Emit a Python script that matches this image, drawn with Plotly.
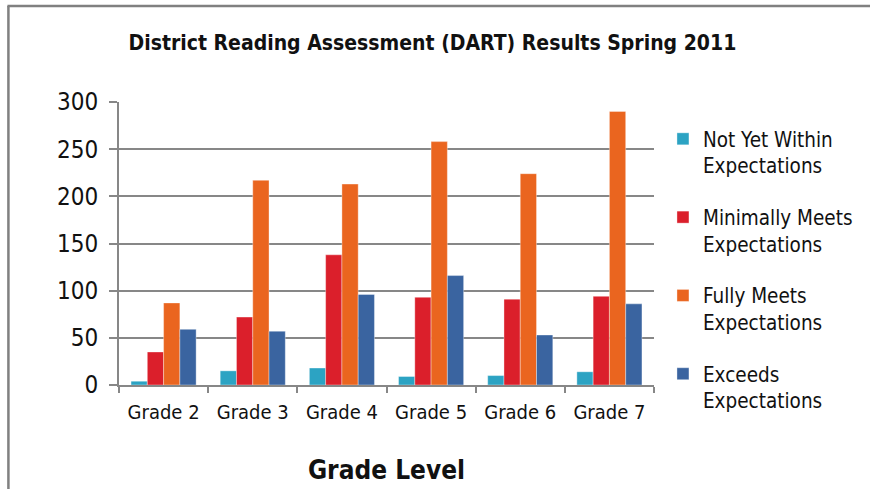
import plotly.graph_objects as go

categories = ["Grade 2", "Grade 3", "Grade 4", "Grade 5", "Grade 6", "Grade 7"]
not_yet = [4, 15, 18, 9, 10, 14]
minimally = [35, 72, 138, 93, 91, 94]
fully = [87, 217, 213, 258, 224, 290]
exceeds = [59, 57, 96, 116, 53, 86]

series_names = [
    "Not Yet Within<br>Expectations",
    "Minimally Meets<br>Expectations",
    "Fully Meets<br>Expectations",
    "Exceeds<br>Expectations",
]
series_values = [not_yet, minimally, fully, exceeds]
colors = ["#2CA3C3", "#DB1F2B", "#EA651F", "#3A64A0"]

FONT = "DejaVu Sans Condensed, Liberation Sans, Arial, sans-serif"

fig = go.Figure()
for i, (name, vals, col) in enumerate(zip(series_names, series_values, colors)):
    fig.add_trace(go.Bar(
        x=categories, y=vals, name=name,
        marker=dict(color=col, line=dict(color="rgba(255,255,255,0.6)", width=0.6)),
        legendgroup=f"g{i}",
    ))

L, R, T, B = 119, 870 - 656, 102, 489 - 385
pw, ph = 656 - L, 385 - T

def px_x(x):
    return (x - L) / pw

def px_y(y):
    return (385 - y) / ph

gray = "#878787"

fig.update_layout(
    width=870, height=489,
    margin=dict(l=L, r=R, t=T, b=B),
    paper_bgcolor="white", plot_bgcolor="white",
    barmode="group", bargap=0.27, bargroupgap=0,
    font=dict(family=FONT, color="#111111", size=20),
    title=dict(
        text="<b>District Reading Assessment (DART) Results Spring 2011</b>",
        x=0.497, xref="container", xanchor="center",
        y=1 - 43 / 489, yref="container", yanchor="middle",
        font=dict(family=FONT, size=21, color="#111111"),
    ),
    legend=dict(
        x=px_x(665), y=px_y(119), xanchor="left", yanchor="top",
        xref="paper", yref="paper",
        font=dict(family=FONT, size=20.5, color="#111111"),
        traceorder="grouped", tracegroupgap=22,
        itemwidth=30, bgcolor="rgba(0,0,0,0)",
        valign="top", maxheight=420,
    ),
    showlegend=True,
    xaxis=dict(
        automargin=False,
        showline=True, linecolor=gray, linewidth=2,
        ticks="outside", tickson="boundaries", ticklen=6, tickcolor=gray, tickwidth=2,
        tickfont=dict(family=FONT, size=20, color="#111111"),
        ticklabelstandoff=8,
        title=dict(text="<b>Grade Level</b>", font=dict(family=FONT, size=26, color="#111111"), standoff=38),
        showgrid=False,
    ),
    yaxis=dict(
        automargin=False,
        range=[0, 300], dtick=50,
        showline=True, linecolor=gray, linewidth=2,
        ticks="outside", ticklen=8, tickcolor=gray, tickwidth=2,
        tickfont=dict(family=FONT, size=24, color="#111111"),
        ticklabelstandoff=6,
        showgrid=True, gridcolor=gray, gridwidth=2,
        zeroline=False,
    ),
    shapes=[
        dict(type="line", xref="paper", yref="paper",
             x0=px_x(8), x1=px_x(8), y0=px_y(6), y1=px_y(520),
             line=dict(color="#808080", width=2.5)),
        dict(type="line", xref="paper", yref="paper",
             x0=px_x(7), x1=px_x(880), y0=px_y(6), y1=px_y(6),
             line=dict(color="#808080", width=2.5)),
    ],
)

fig.write_html(
    "out.html",
    config={"displayModeBar": False},
    post_script="document.body.style.margin='0';document.body.style.overflow='hidden';",
)
